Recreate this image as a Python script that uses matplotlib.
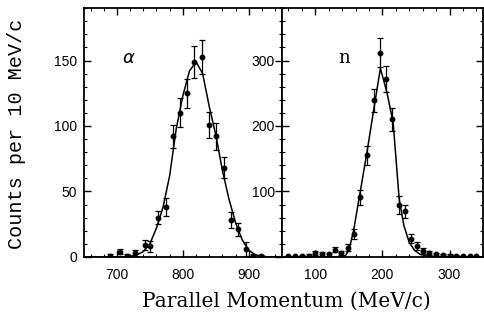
import matplotlib
matplotlib.use('Agg')
import matplotlib.pyplot as plt
from matplotlib.ticker import MultipleLocator

# ---- alpha panel data (points with errors) ----
a_x = [690, 705, 715, 727, 742, 750, 763, 774, 785, 796, 806, 817, 829,
       840, 851, 862, 873, 884, 896, 907, 918]
a_y = [1, 4, 1, 3, 9, 8, 30, 38, 92, 110, 125, 149, 153,
       101, 92, 68, 28, 21, 6, 1, 0.5]
a_err = [1, 2, 1, 2, 4, 4, 5, 7, 9, 11, 11, 12, 13,
         10, 10, 8, 6, 5, 5, 1, 1]
# fitted curve
a_cx = [650, 710, 720, 730, 740, 750, 760, 770, 780, 785, 790, 800, 810, 820,
        830, 840, 850, 860, 870, 880, 890, 900, 910, 920, 930, 950]
a_cy = [0, 0, 0.5, 1.5, 4, 10, 22, 38, 62, 80, 98, 123, 142, 149,
        140, 115, 93, 66, 44, 26, 13, 5, 1.5, 0.5, 0, 0]

# ---- neutron panel data ----
n_x = [60, 70, 80, 90, 100, 110, 120, 130, 138, 148, 157, 167, 177, 187,
       196, 205, 215, 224, 233, 242, 251, 261, 270, 280, 290, 300, 310,
       320, 330, 340]
n_y = [1, 1, 2, 2, 6, 5, 4, 11, 6, 14, 35, 91, 155, 239,
       312, 272, 210, 79, 70, 28, 17, 9, 6, 4, 3, 2, 2,
       1, 1, 1]
n_err = [1, 1, 1, 2, 3, 3, 2, 4, 3, 5, 7, 11, 14, 17,
         22, 20, 17, 14, 10, 7, 6, 4, 3, 2, 2, 2, 1,
         1, 1, 1]
n_cx = [50, 130, 140, 145, 150, 157, 167, 177, 187, 197, 207, 216,
        225, 232, 240, 248, 256, 265, 280, 350]
n_cy = [0, 0, 1, 2, 10, 40, 100, 160, 225, 288, 250, 205,
        88, 48, 22, 10, 4, 1.5, 0.5, 0]

fig = plt.figure(figsize=(4.85, 3.26), dpi=100)
ax1 = fig.add_axes([0.173, 0.212, 0.408, 0.763])
ax2 = fig.add_axes([0.581, 0.212, 0.415, 0.763])

ax1.plot(a_cx, a_cy, color='black', lw=1.1)
ax1.errorbar(a_x, a_y, yerr=a_err, fmt='o', color='black', ms=3.2,
             elinewidth=0.9, capsize=2.5, capthick=0.9)
ax1.set_xlim(650, 950)
ax1.set_ylim(0, 190)
ax1.set_xticks([700, 800, 900])
ax1.set_yticks([0, 50, 100, 150])
ax1.xaxis.set_minor_locator(MultipleLocator(20))
ax1.yaxis.set_minor_locator(MultipleLocator(10))
ax1.text(0.19, 0.78, r'$\alpha$', transform=ax1.transAxes, fontsize=13,
         family='DejaVu Serif')

ax2.plot(n_cx, n_cy, color='black', lw=1.1)
ax2.errorbar(n_x, n_y, yerr=n_err, fmt='o', color='black', ms=3.2,
             elinewidth=0.9, capsize=2.5, capthick=0.9)
ax2.set_xlim(50, 350)
ax2.set_ylim(0, 380)
ax2.set_xticks([100, 200, 300])
ax2.set_yticks([100, 200, 300])
ax2.xaxis.set_minor_locator(MultipleLocator(20))
ax2.yaxis.set_minor_locator(MultipleLocator(20))
ax2.text(0.28, 0.78, 'n', transform=ax2.transAxes, fontsize=13,
         family='DejaVu Serif')

for ax in (ax1, ax2):
    for s in ax.spines.values():
        s.set_linewidth(1.3)
    ax.tick_params(which='both', direction='in', top=True, right=True,
                   labelsize=10)
    ax.tick_params(axis='x', pad=8)
    ax.tick_params(axis='y', pad=5)
    ax.tick_params(which='major', length=5, width=1)
    ax.tick_params(which='minor', length=2.5, width=0.8)
    for lab in ax.get_xticklabels() + ax.get_yticklabels():
        lab.set_family('Liberation Sans')

fig.text(0.59, 0.06, 'Parallel Momentum (MeV/c)', ha='center',
         fontsize=14.5, family='DejaVu Serif')
fig.text(0.035, 0.59, 'Counts per 10 MeV/c', va='center', ha='center',
         rotation=90, fontsize=14.5, family='Liberation Mono')

fig.savefig('out.png', dpi=100)
